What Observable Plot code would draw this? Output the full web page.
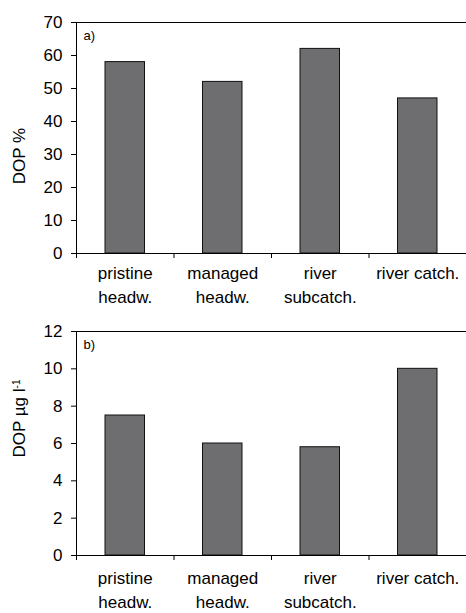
<!DOCTYPE html>
<html>
<head>
<meta charset="utf-8">
<script src="https://cdn.jsdelivr.net/npm/d3@7"></script>
<script src="https://cdn.jsdelivr.net/npm/@observablehq/plot@0.6"></script>
<style>
  body { margin: 0; background: #fff; }
  #chart svg { display: block; }
</style>
</head>
<body>
<div id="chart"></div>
<script>
const categories = ["pristine\nheadw.", "managed\nheadw.", "river\nsubcatch.", "river catch."];
const dopPercent = [58, 52, 62, 47];
const dopConc = [7.5, 6, 5.8, 10];
const yTicksA = [0, 10, 20, 30, 40, 50, 60, 70];
const yTicksB = [0, 2, 4, 6, 8, 10, 12];

function panel({values, yDomain, yTicks, height, marginTop, marginBottom, yLabel, tag, labelDy, catDy}) {
  const rows = categories.map((c, i) => ({i, c, v: values[i]}));
  return Plot.plot({
    width: 466,
    height,
    marginLeft: 76,
    marginRight: 0,
    marginTop,
    marginBottom,
    style: {fontFamily: "'Liberation Sans', Arial, sans-serif", fontSize: "17px", color: "#000", background: "#fff", overflow: "visible"},
    x: {domain: [0, categories.length], axis: null},
    y: {domain: yDomain, axis: null},
    marks: [
      Plot.rectY(rows, {x1: "i", x2: d => d.i + 1, y: "v", insetLeft: 29, insetRight: 29, fill: "#6e6e70", stroke: "#111", strokeWidth: 1}),
      Plot.ruleY([yDomain[1]], {stroke: "#000", strokeWidth: 1}),
      Plot.ruleY([0], {stroke: "#000", strokeWidth: 1}),
      Plot.ruleX([0], {stroke: "#000", strokeWidth: 1}),
      Plot.axisY({ticks: yTicks, tickSize: 5, tickPadding: 9, label: null, fontSize: 17}),
      Plot.axisX({ticks: d3.range(categories.length + 1), tickSize: 5, tickFormat: () => "", label: null}),
      Plot.text(rows, {x: d => d.i + 0.5, frameAnchor: "bottom", text: "c", lineAnchor: "top", textAnchor: "middle", dy: catDy, lineHeight: 1.38, fontSize: 17}),
      Plot.text([tag], {frameAnchor: "top-left", text: d => d, dx: 7, dy: 8, fontSize: 13, lineAnchor: "top", textAnchor: "start"}),
      Plot.text([yLabel], {frameAnchor: "left", text: d => d, rotate: -90, dx: -57, dy: labelDy, textAnchor: "middle", lineAnchor: "middle", fontSize: 17})
    ]
  });
}

const chart = document.getElementById("chart");
chart.append(panel({values: dopPercent, yDomain: [0, 70], yTicks: yTicksA, height: 300, marginTop: 22, marginBottom: 47, yLabel: "DOP %", tag: "a)", labelDy: 18, catDy: 9}));
const pb = panel({values: dopConc, yDomain: [0, 12], yTicks: yTicksB, height: 313, marginTop: 31, marginBottom: 58, yLabel: "DOP µg l-1", tag: "b)", labelDy: -25, catDy: 12});
chart.append(pb);

// superscript for unit
d3.select(pb).selectAll("text").filter(function() { return this.textContent === "DOP µg l-1"; }).each(function() {
  const t = d3.select(this);
  t.text(null);
  t.append("tspan").text("DOP µg l");
  t.append("tspan").attr("baseline-shift", "super").attr("font-size", 10).text("-1");
});
</script>
</body>
</html>
